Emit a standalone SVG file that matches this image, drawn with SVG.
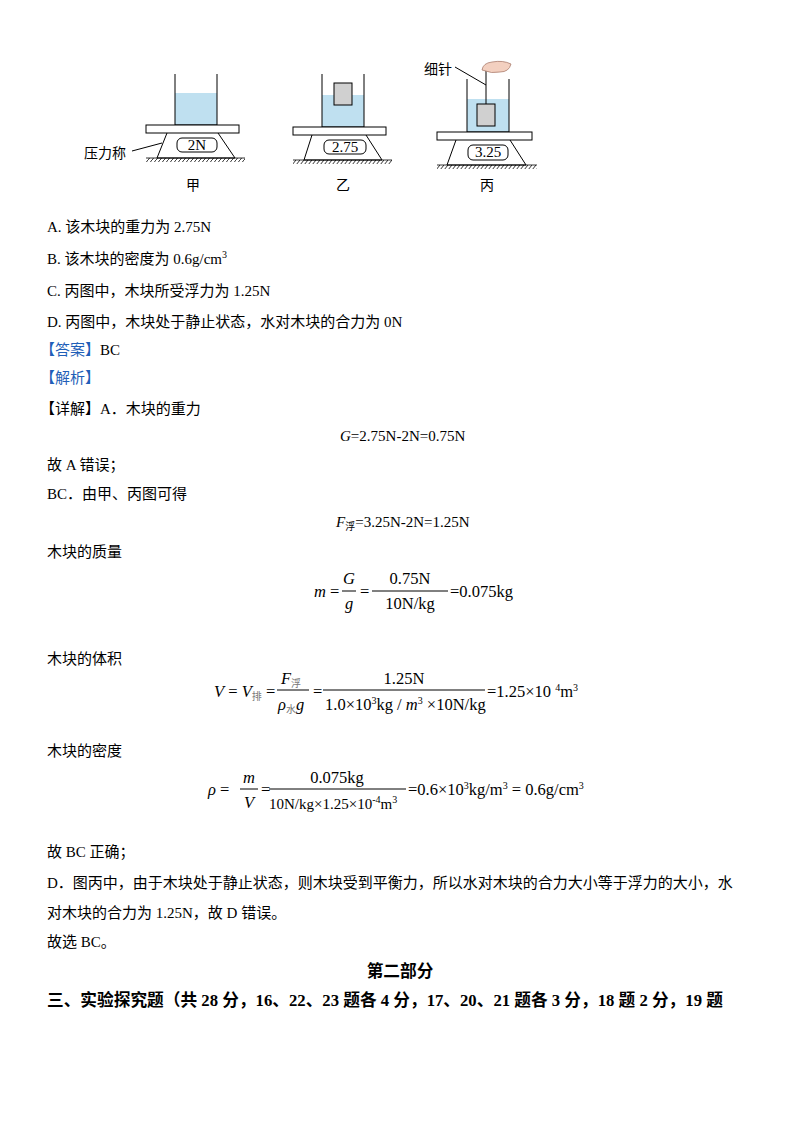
<svg xmlns="http://www.w3.org/2000/svg" width="800" height="1132" viewBox="0 0 800 1132">
<style>
text{font-family:"Liberation Serif","Noto Sans CJK SC",serif;font-size:15px;fill:#000}
.b{font-weight:bold;font-size:16.7px}
.bl{fill:#1f5fb8}
.i{font-style:italic}
.s{font-size:10px}
.f{font-size:16.5px}
.fig{font-size:14px}
.l{stroke:#000;stroke-width:1;fill:none}
.w{fill:#bfe0f0;stroke:none}
.p{fill:#fff;stroke:#000;stroke-width:1}
.k{fill:#d0d0d0;stroke:#000;stroke-width:1}
.g{stroke:#000;stroke-width:0.8}
</style>
<defs>
<pattern id="h" width="4" height="5" patternUnits="userSpaceOnUse"><line x1="4" y1="0" x2="0" y2="5" stroke="#000" stroke-width="0.8"/></pattern>
</defs>
<rect width="800" height="1132" fill="#fff"/>
<g id="fig-jia">
<rect class="w" x="175" y="93" width="42" height="32"/>
<path class="l" d="M175,74 V125 H217 V74"/>
<rect class="p" x="146" y="125" width="93" height="8"/>
<path class="l" d="M167,133 L157,158 H235 L218,133"/>
<rect class="p" x="177" y="138" width="40" height="14" rx="5"/>
<text x="197" y="150" text-anchor="middle" font-size="13">2N</text>
<line class="g" x1="146" y1="158" x2="245" y2="158"/>
<rect x="146" y="158" width="99" height="4" fill="url(#h)"/>
<line class="l" x1="132" y1="151" x2="162" y2="143"/>
<text x="84" y="158" class="fig">压力称</text>
<text x="193" y="190" text-anchor="middle" class="fig">甲</text>
</g>
<g id="fig-yi">
<rect class="w" x="322" y="95" width="42" height="32"/>
<path class="l" d="M322,74 V127 H364 V74"/>
<rect class="k" x="334" y="83" width="18" height="22"/>
<rect class="p" x="293" y="127" width="93" height="8"/>
<path class="l" d="M312,135 L304,160 H382 L366,135"/>
<rect class="p" x="324" y="140" width="42" height="14" rx="5"/>
<text x="345" y="152" text-anchor="middle" font-size="13">2.75</text>
<line class="g" x1="293" y1="160" x2="392" y2="160"/>
<rect x="293" y="160" width="99" height="4" fill="url(#h)"/>
<text x="343" y="190" text-anchor="middle" class="fig">乙</text>
</g>
<g id="fig-bing">
<rect class="w" x="467" y="99" width="42" height="33"/>
<path class="l" d="M467,79 V132 H509 V79"/>
<line class="l" x1="486" y1="68" x2="486" y2="104"/>
<rect class="k" x="477" y="104" width="18" height="22"/>
<path d="M482,70 Q483,63 492,62 Q503,60 511,64 Q509,72 500,72 Q492,74 482,70 Z" fill="#f3d0c0" stroke="#a07060" stroke-width="0.7"/>
<rect class="p" x="437" y="132" width="95" height="8"/>
<path class="l" d="M456,140 L447,165 H526 L510,140"/>
<rect class="p" x="468" y="145" width="40" height="15" rx="5"/>
<text x="488" y="157" text-anchor="middle" font-size="13">3.25</text>
<line class="g" x1="437" y1="165" x2="537" y2="165"/>
<rect x="437" y="165" width="100" height="4" fill="url(#h)"/>
<line class="l" x1="455" y1="67" x2="486" y2="85"/>
<text x="424" y="74" class="fig">细针</text>
<text x="487" y="190" text-anchor="middle" class="fig">丙</text>
</g>
<g id="text">
<text x="47" y="232">A. 该木块的重力为 2.75N</text>
<text x="47" y="264">B. 该木块的密度为 0.6g/cm<tspan class="s" dy="-6">3</tspan></text>
<text x="47" y="296">C. 丙图中，木块所受浮力为 1.25N</text>
<text x="47" y="327">D. 丙图中，木块处于静止状态，水对木块的合力为 0N</text>
<text x="40" y="355"><tspan class="bl">【答案】</tspan>BC</text>
<text x="40" y="383" class="bl">【解析】</text>
<text x="40" y="414">【详解】A．木块的重力</text>
<text x="340" y="441"><tspan class="i">G</tspan>=2.75N-2N=0.75N</text>
<text x="47" y="470">故 A 错误；</text>
<text x="47" y="499">BC．由甲、丙图可得</text>
<text x="336" y="527"><tspan class="i">F</tspan><tspan class="s" dy="3">浮</tspan><tspan dy="-3">=3.25N-2N=1.25N</tspan></text>
<text x="47" y="557">木块的质量</text>
<text x="314" y="597" class="f"><tspan class="i">m</tspan> =</text>
<text x="349" y="584" class="i f" text-anchor="middle">G</text>
<line class="l" x1="342" y1="591" x2="356" y2="591"/>
<text x="349" y="609" class="i f" text-anchor="middle">g</text>
<text x="360" y="597" class="f">=</text>
<text x="410" y="584" text-anchor="middle" class="f">0.75N</text>
<line class="l" x1="372" y1="591" x2="448" y2="591"/>
<text x="410" y="609" text-anchor="middle" class="f">10N/kg</text>
<text x="450" y="597" class="f">=0.075kg</text>
<text x="47" y="664">木块的体积</text>
<text x="214" y="697" class="f"><tspan class="i">V</tspan> = <tspan class="i">V</tspan><tspan class="s" dy="3" fill="#777">排</tspan><tspan dy="-3"> =</tspan></text>
<text x="281" y="684" class="f"><tspan class="i">F</tspan><tspan class="s" dy="3" fill="#777">浮</tspan></text>
<line class="l" x1="277" y1="690" x2="309" y2="690"/>
<text x="278" y="710" class="f"><tspan class="i">ρ</tspan><tspan class="s" dy="3" fill="#777">水</tspan><tspan dy="-3" class="i">g</tspan></text>
<text x="313" y="697" class="f">=</text>
<text x="404" y="684" text-anchor="middle" class="f">1.25N</text>
<line class="l" x1="323" y1="690" x2="485" y2="690"/>
<text x="325" y="710" class="f">1.0×10<tspan class="s" dy="-6">3</tspan><tspan dy="6">kg / </tspan><tspan class="i">m</tspan><tspan class="s" dy="-6">3</tspan><tspan dy="6"> ×10N/kg</tspan></text>
<text x="487" y="697" class="f">=1.25×10 <tspan class="s" dy="-6">4</tspan><tspan dy="6">m</tspan><tspan class="s" dy="-6">3</tspan></text>
<text x="47" y="756">木块的密度</text>
<text x="208" y="795" class="f"><tspan class="i">ρ</tspan> =</text>
<text x="249" y="783" class="i f" text-anchor="middle">m</text>
<line class="l" x1="240" y1="789" x2="258" y2="789"/>
<text x="249" y="808" class="i f" text-anchor="middle">V</text>
<text x="261" y="795" class="f">=</text>
<text x="337" y="783" text-anchor="middle" class="f">0.075kg</text>
<line class="l" x1="269" y1="789" x2="406" y2="789"/>
<text x="269" y="809" font-size="15.5">10N/kg×1.25×10<tspan class="s" dy="-6">-4</tspan><tspan dy="6">m</tspan><tspan class="s" dy="-6">3</tspan></text>
<text x="408" y="795" class="f">=0.6×10<tspan class="s" dy="-6">3</tspan><tspan dy="6">kg/m</tspan><tspan class="s" dy="-6">3</tspan><tspan dy="6"> = 0.6g/cm</tspan><tspan class="s" dy="-6">3</tspan></text>
<text x="47" y="857">故 BC 正确；</text>
<text x="47" y="888">D．图丙中，由于木块处于静止状态，则木块受到平衡力，所以水对木块的合力大小等于浮力的大小，水</text>
<text x="47" y="918">对木块的合力为 1.25N，故 D 错误。</text>
<text x="47" y="947">故选 BC。</text>
<text x="400" y="977" class="b" text-anchor="middle">第二部分</text>
<text x="47" y="1006" class="b">三、实验探究题（共 28 分，16、22、23 题各 4 分，17、20、21 题各 3 分，18 题 2 分，19 题</text>
</g>
</svg>
